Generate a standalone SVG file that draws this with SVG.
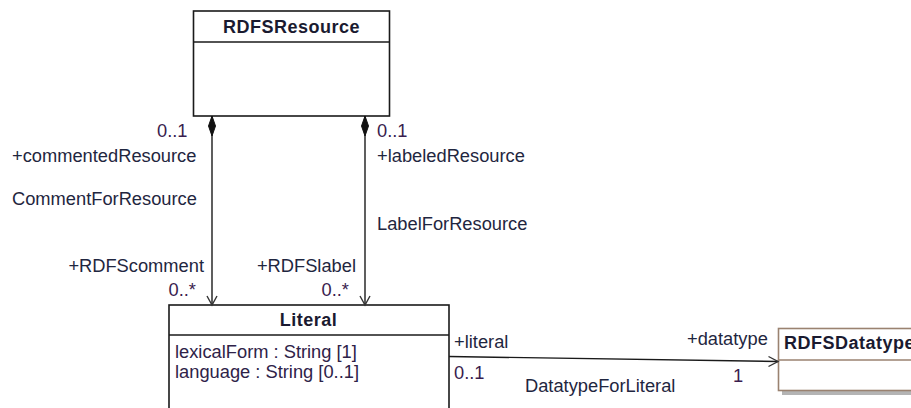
<svg xmlns="http://www.w3.org/2000/svg" width="911" height="408" viewBox="0 0 911 408">
<style>
  text { font-family: "Liberation Sans", Arial, sans-serif; font-size: 18.3px; fill: #1f2640; }
  .title { font-weight: bold; font-size: 18px; letter-spacing: 0.5px; fill: #1a1a30; }
  .mult { fill: #3a1d4e; }
  .attr { fill: #2e2248; }
  .box { fill: #ffffff; stroke: #1a1a1a; stroke-width: 1.6; }
  .dbox { fill: #ffffff; stroke: #9a8270; stroke-width: 1.6; }
  .line { fill: none; stroke: #1a1a1a; stroke-width: 1.4; }
  .head { fill: none; stroke: #333; stroke-width: 1.4; }
  .diamond { fill: #111; stroke: #111; stroke-width: 1; }
</style>
<rect width="911" height="408" fill="#ffffff"/>

<g id="RDFSResource">
  <rect class="box" x="193.5" y="11" width="196" height="105"/>
  <line class="line" x1="193.5" y1="42" x2="389.5" y2="42"/>
  <text class="title" x="291.5" y="33" text-anchor="middle">RDFSResource</text>
</g>

<g id="Literal">
  <rect class="box" x="169" y="305" width="280" height="120"/>
  <line class="line" x1="169" y1="335" x2="449" y2="335"/>
  <text class="title" x="308.5" y="326" text-anchor="middle">Literal</text>
  <text class="attr" x="175" y="358">lexicalForm : String [1]</text>
  <text class="attr" x="175" y="378">language : String [0..1]</text>
</g>

<g id="RDFSDatatype">
  <rect x="782" y="332" width="140" height="63" fill="#b4b4b4"/>
  <rect class="dbox" x="778.5" y="328.5" width="140" height="62"/>
  <line x1="778.5" y1="360" x2="918" y2="360" stroke="#9a8270" stroke-width="1.6"/>
  <text class="title" x="784" y="349">RDFSDatatype</text>
</g>

<g id="connectors">
  <g id="CommentForResource">
    <line class="line" x1="212" y1="116" x2="212" y2="305"/>
    <polygon class="diamond" points="212,116 215.5,126 212,136 208.5,126"/>
    <polyline class="head" points="207,296 212,305 217,296"/>
    <text class="mult" x="157" y="137">0..1</text>
    <text x="12" y="162">+commentedResource</text>
    <text x="12" y="205">CommentForResource</text>
    <text x="204" y="272" text-anchor="end">+RDFScomment</text>
    <text class="mult" x="196" y="296" text-anchor="end">0..*</text>
  </g>
  <g id="LabelForResource">
    <line class="line" x1="365" y1="116" x2="365" y2="305"/>
    <polygon class="diamond" points="365,116 368.5,126 365,136 361.5,126"/>
    <polyline class="head" points="360,296 365,305 370,296"/>
    <text class="mult" x="377" y="137">0..1</text>
    <text x="377" y="162">+labeledResource</text>
    <text x="377" y="230">LabelForResource</text>
    <text x="356" y="272" text-anchor="end">+RDFSlabel</text>
    <text class="mult" x="349" y="296" text-anchor="end">0..*</text>
  </g>
  <g id="DatatypeForLiteral">
    <line class="line" x1="449" y1="356.5" x2="778" y2="361.5"/>
    <polyline class="head" points="768.5,356.5 778,361.5 768.5,366.5"/>
    <text x="454" y="348">+literal</text>
    <text class="mult" x="454" y="379">0..1</text>
    <text x="687" y="345">+datatype</text>
    <text class="mult" x="733" y="382">1</text>
    <text x="525" y="392">DatatypeForLiteral</text>
  </g>
</g>
</svg>
